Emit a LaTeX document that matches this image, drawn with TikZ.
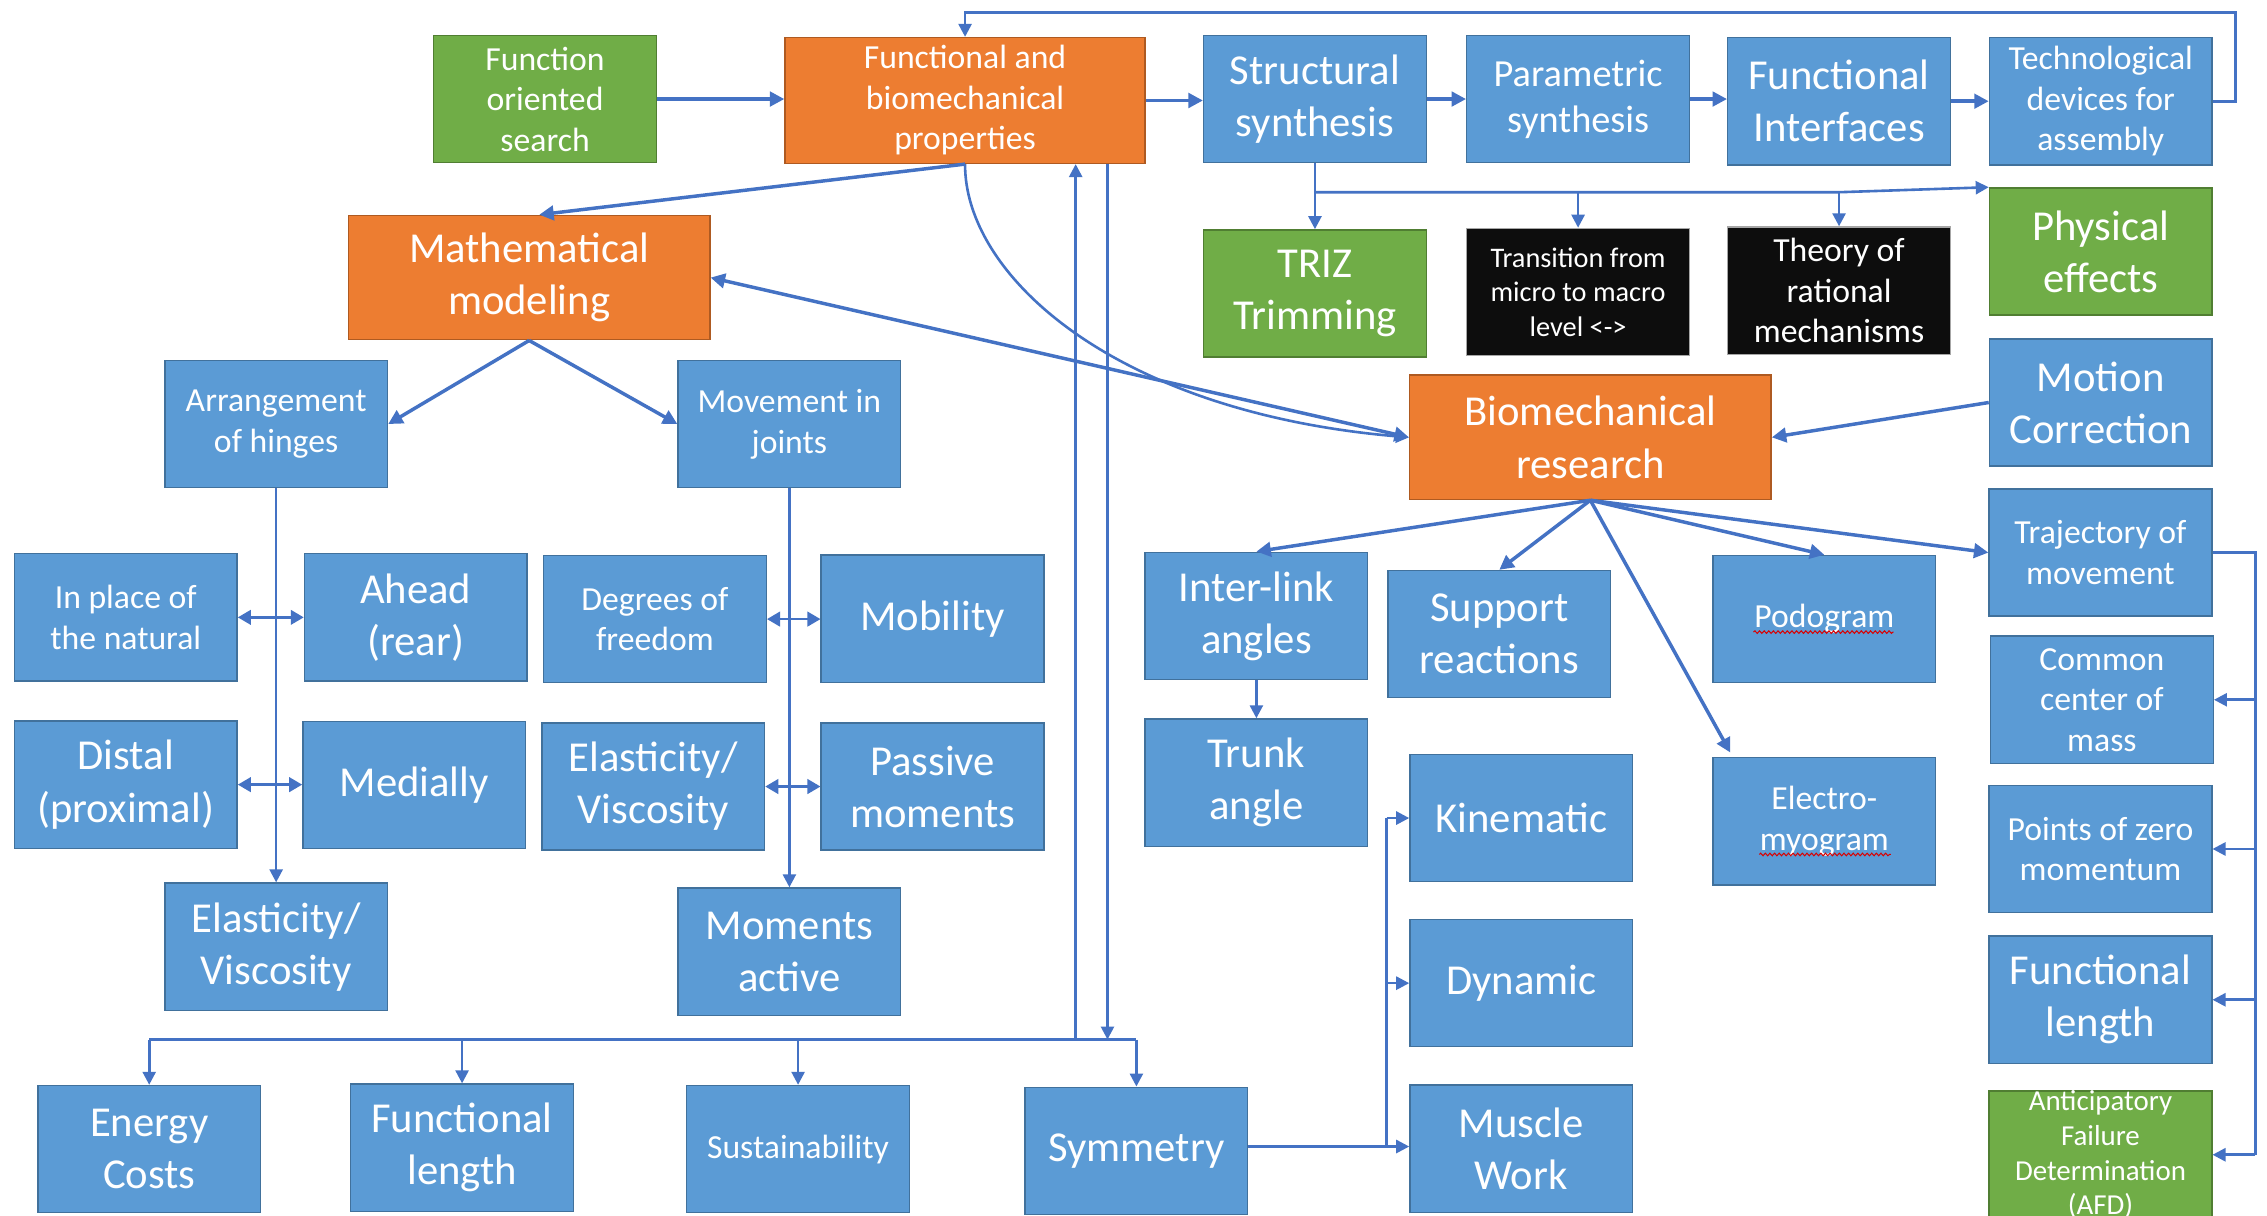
\documentclass[tikz,border=0pt]{standalone}
\usepackage{fontspec}
\setmainfont{Carlito}
\usetikzlibrary{arrows.meta,calc,decorations.pathmorphing}

\definecolor{boxblue}{HTML}{5B9BD5}
\definecolor{boxblueD}{HTML}{41719C}
\definecolor{boxorange}{HTML}{ED7D31}
\definecolor{boxorangeD}{HTML}{AE5A21}
\definecolor{boxgreen}{HTML}{70AD47}
\definecolor{boxgreenD}{HTML}{507E32}
\definecolor{boxblack}{HTML}{0D0D0D}
\definecolor{linkblue}{HTML}{4472C4}

\begin{document}
\begin{tikzpicture}[x=1pt,y=-1pt,
  base/.style={rectangle, line width=1pt, text=white, align=center, inner sep=1pt,
               minimum width=154pt, minimum height=88pt},
  bb/.style={base, fill=boxblue, draw=boxblueD},
  ob/.style={base, fill=boxorange, draw=boxorangeD, minimum width=250pt, minimum height=86pt},
  gb/.style={base, fill=boxgreen, draw=boxgreenD},
  kb/.style={base, fill=boxblack, draw=gray!70},
  fL/.style={font=\fontsize{29.5}{36}\selectfont},
  fP/.style={font=\fontsize{26.5}{32}\selectfont},
  fM/.style={font=\fontsize{23.3}{28}\selectfont},
  fS/.style={font=\fontsize{19.6}{24}\selectfont},
  fX/.style={font=\fontsize{20}{24}\selectfont},
  rail/.style={draw=linkblue, line width=1.8pt},
  link/.style={rail, -{Triangle[length=9pt,width=9pt]}},
  linkboth/.style={rail, {Triangle[length=9pt,width=10pt]}-{Triangle[length=9pt,width=10pt]}},
  heavy/.style={draw=linkblue, line width=2.4pt, -{Triangle[length=10pt,width=10pt]}},
  heavyboth/.style={draw=linkblue, line width=2.4pt, {Triangle[length=10pt,width=10pt]}-{Triangle[length=10pt,width=10pt]}},
  squiggle/.style={draw=red!85!black, line width=0.7pt, decorate,
                   decoration={snake, segment length=3.2pt, amplitude=0.9pt}}
]
\useasboundingbox (0,0) rectangle (1568,841);
\clip (0,0) rectangle (1568,841);
\fill[white] (0,0) rectangle (1568,841);

% ---------- top row ----------
\node[gb,fM] (fos) at (377,68.5) {Function\\oriented\\search};
\node[ob,fM,minimum width=249pt,minimum height=87pt] (fbp) at (667.5,69.5) {Functional and\\biomechanical\\properties};
\node[bb,fL] (sts) at (909.5,68.5) {Structural\\synthesis};
\node[bb,fP] (pas) at (1091.5,68.5) {Parametric\\synthesis};
\node[bb,fL] (fui) at (1272,70) {Functional\\Interfaces};
\node[bb,fM] (tda) at (1453,70) {Technological\\devices for\\assembly};

% ---------- synthesis tools ----------
\node[gb,fL] (triz) at (909.5,203) {TRIZ\\Trimming};
\node[kb,fS] (tmm) at (1091.5,202) {Transition from\\micro to macro\\level <->};
\node[kb,fM] (trm) at (1272,201) {Theory of\\rational\\mechanisms};
\node[gb,fL] (phe) at (1453,174) {Physical\\effects};

% ---------- modelling and research ----------
\node[ob,fL] (mm) at (366,192) {Mathematical\\modeling};
\node[bb,fL] (moc) at (1453,278.4) {Motion\\Correction};
\node[ob,fL] (bmr) at (1100,302.5) {Biomechanical\\research};

\node[bb,fM] (aoh) at (191,293.3) {Arrangement\\of hinges};
\node[bb,fM] (mij) at (546,293.3) {Movement in\\joints};

\node[bb,fM] (ipn) at (87,427) {In place of\\the natural};
\node[bb,fL] (ahr) at (287.6,427) {Ahead\\(rear)};
\node[bb,fM] (dof) at (453,428.2) {Degrees of\\freedom};
\node[bb,fL] (mob) at (645,428) {Mobility};

\node[bb,fL] (dpx) at (87,542.7) {Distal\\(proximal)};
\node[bb,fL] (med) at (286.5,543) {Medially};
\node[bb,fL] (evb) at (451.8,544) {Elasticity/\\Viscosity};
\node[bb,fL] (pam) at (645,544) {Passive\\moments};

\node[bb,fL] (eva) at (191,654.8) {Elasticity/\\Viscosity};
\node[bb,fL] (moa) at (546,658.2) {Moments\\active};

\node[bb,fL] (enc) at (103.2,794.8) {Energy\\Costs};
\node[bb,fL] (fla) at (319.6,793.8) {Functional\\length};
\node[bb,fM] (sus) at (552,794.8) {Sustainability};
\node[bb,fL] (sym) at (786,796) {Symmetry};

% ---------- research branches ----------
\node[bb,fL] (ila) at (869,426) {Inter-link\\angles};
\node[bb,fL] (spr) at (1037,438.6) {Support\\reactions};
\node[bb,fM] (pod) at (1261.8,428.2) {Podogram};
\node[bb,fM] (tom) at (1452.8,382.2) {Trajectory of\\movement};
\node[bb,fL] (tra) at (869,541.3) {Trunk\\angle};
\node[bb,fM] (ccm) at (1453.8,484) {Common\\center of\\mass};
\node[bb,fL] (kin) at (1052.2,565.8) {Kinematic};
\node[bb,fM] (emg) at (1261.8,568) {Electro-\\myogram};
\node[bb,fM] (pzm) at (1452.8,587.2) {Points of zero\\momentum};
\node[bb,fL] (dyn) at (1052.2,680) {Dynamic};
\node[bb,fL] (flb) at (1452.8,691.5) {Functional\\length};
\node[bb,fL] (muw) at (1052.2,794.5) {Muscle\\Work};
\node[gb] (afd) at (1452.8,798.7) {};
\node[fX,text=white,align=center,inner sep=0pt] (afdtext) at (afd.center) {Anticipatory\\Failure\\Determination\\(AFD)};

% spell-check marks under two words
\draw[squiggle] ($(pod.center)+(-49,9)$) -- ($(pod.center)+(48,9)$);
\draw[squiggle] ($(emg.center)+(-45,23)$) -- ($(emg.center)+(46,23)$);

% ---------- top chain ----------
\draw[heavy] (fos.east) -- (fos.east -| fbp.west);
\draw[heavy] (fbp.east) -- (fbp.east -| sts.west);
\draw[heavy] (sts.east) -- (sts.east -| pas.west);
\draw[heavy] (pas.east) -- (pas.east -| fui.west);
\draw[heavy] (fui.east) -- (fui.east -| tda.west);

% feedback loop over the top
\coordinate (fbT) at (1546,8.5);
\draw[link] (tda.east) -| (fbT) -| (fbp.north);

% synthesis branches
\coordinate (br) at (909.5,133);
\coordinate (brE) at (1270.5,133);
\draw[link] (sts.south) -- (triz.north);
\draw[link] (br) -- (brE) -- (phe.north west);
\draw[link] (tmm.north |- br) -- (tmm.north);
\draw[link] (trm.north |- br) -- (trm.north);

% properties to modelling and research
\draw[heavy] (fbp.south) -- ($(mm.north)+(7,0)$);
\draw[link] (fbp.south) .. controls (667,190) and (770,285) .. (bmr.west);
\draw[heavyboth] (mm.east) -- (bmr.west);
\draw[heavy] (mm.south) -- (aoh.east);
\draw[heavy] (mm.south) -- (mij.west);

% hinge and joint columns
\draw[link] (aoh.south) -- (eva.north);
\draw[linkboth] (ipn.east) -- (ipn.east -| ahr.west);
\draw[linkboth] (dpx.east) -- (dpx.east -| med.west);
\draw[link] (mij.south) -- (moa.north);
\draw[linkboth] (dof.east) -- (dof.east -| mob.west);
\draw[linkboth] (evb.east) -- (evb.east -| pam.west);

% shared bus to the bottom row
\coordinate (bus) at (103.2,719);
\coordinate (busR) at (786,719);
\coordinate (upX) at (744,719);
\coordinate (dnX) at (766,719);
\draw[rail] (enc.north |- bus) -- (busR);
\draw[link] (upX) -- (upX |- fbp.south);
\draw[link] (dnX |- fbp.south) -- (dnX);
\draw[link] (enc.north |- bus) -- (enc.north);
\draw[link] (fla.north |- bus) -- (fla.north);
\draw[link] (sus.north |- bus) -- (sus.north);
\draw[link] (busR) -- (sym.north);

% biomechanical research fan
\draw[heavy] (bmr.south) -- (ila.north);
\draw[heavy] (bmr.south) -- (spr.north);
\draw[heavy] (bmr.south) -- ($(emg.north west)+(12.5,-3)$);
\draw[heavy] (bmr.south) -- (pod.north);
\draw[heavy] (bmr.south) -- (tom.west);
\draw[link] (ila.south) -- (tra.north);
\draw[heavy] (moc.west) -- (bmr.east);

% symmetry group
\coordinate (sj) at (959,793);
\draw[link] (sj -| sym.east) -- (sj -| muw.west);
\draw[rail] (sj) -- (sj |- kin.west);
\draw[link] (sj |- kin.west) -- (kin.west);
\draw[link] (sj |- dyn.west) -- (dyn.west);

% right bracket
\coordinate (rb) at (1560,0);
\draw[rail] (tom.east) -- (tom.east -| rb) -- (rb |- afd.east);
\draw[link] (rb |- ccm.east) -- (ccm.east);
\draw[link] (rb |- pzm.east) -- (pzm.east);
\draw[link] (rb |- flb.east) -- (flb.east);
\draw[link] (rb |- afd.east) -- (afd.east);
\end{tikzpicture}
\end{document}
